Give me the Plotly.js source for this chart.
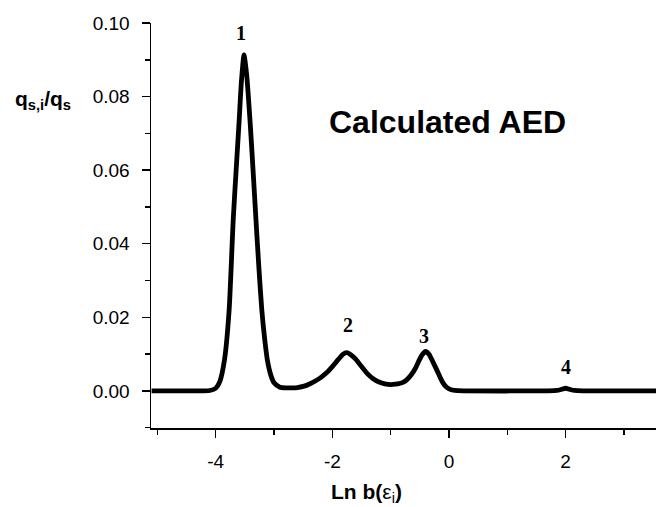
<!DOCTYPE html>
<html>
<head>
<meta charset="utf-8">
<script src="https://cdn.plot.ly/plotly-3.0.1.min.js"></script>
<style>html,body{margin:0;padding:0;background:#fff;}#chart{width:656px;height:507px;}</style>
</head>
<body>
<div id="chart"></div>
<script>
// Curve (Ln b(eps_i), q_s,i/q_s)
var lnB = [-5.10,-4.50,-4.20,-4.10,-4.00,-3.93,-3.85,-3.77,-3.70,-3.65,-3.60,-3.56,-3.515,-3.47,-3.41,-3.36,-3.31,-3.26,-3.21,-3.16,-3.115,-3.05,-3.00,-2.90,-2.80,-2.70,
  -2.60,-2.50,-2.40,-2.30,-2.20,-2.10,-2.00,-1.90,-1.82,-1.755,-1.69,-1.60,-1.50,-1.40,-1.30,-1.20,-1.10,-1.00,-0.92,
  -0.85,-0.78,-0.725,-0.65,-0.58,-0.52,-0.46,-0.40,-0.34,-0.28,-0.21,-0.15,-0.10,-0.05,0.02,0.10,0.25,
  1.70,1.85,1.93,2.00,2.07,2.15,2.30,3.55];
var qRatio = [0,0,0,0.0001,0.0007,0.0025,0.0084,0.0220,0.0465,0.0600,0.0730,0.0840,0.0913,0.0860,0.0730,0.0600,0.0465,0.0335,0.0220,0.0140,0.0084,0.0040,0.0022,0.0010,0.0008,0.0008,
  0.0009,0.0012,0.0018,0.0026,0.0036,0.0049,0.0066,0.0085,0.0099,0.0104,0.0099,0.0086,0.0066,0.0047,0.0033,0.0024,0.0019,0.0017,0.0018,
  0.0020,0.0024,0.0030,0.0043,0.0060,0.0080,0.0098,0.0107,0.0099,0.0080,0.0057,0.0036,0.0021,0.0011,0.0004,0.0001,0,
  0,0.0001,0.0004,0.0007,0.0004,0.0001,0,0];
var peakLabels = ["1","2","3","4"];
var peakLabelX = [-3.56,-1.73,-0.43,2.0];
var peakLabelY = [0.0973,0.0179,0.0148,0.0065];
var xTicks = [-4,-2,0,2];
var yTicks = [0.00,0.02,0.04,0.06,0.08,0.10];

var trace = {
  x: lnB, y: qRatio, type: 'scatter', mode: 'lines',
  line: {color: '#000', width: 4.8, shape: 'spline', smoothing: 0.6},
  hoverinfo: 'skip'
};

var annotations = peakLabels.map(function(t, i){
  return {text: '<b>' + t + '</b>', x: peakLabelX[i], y: peakLabelY[i], xref: 'x', yref: 'y',
    showarrow: false, xanchor: 'center', yanchor: 'middle',
    font: {family: '"Times New Roman", "Liberation Serif", serif', size: 20, color: '#000'}};
});
annotations.push({text: '<b>Calculated AED</b>', xref: 'paper', yref: 'paper',
  x: (447-151)/505, y: (428-122)/405, xanchor: 'center', yanchor: 'middle', showarrow: false,
  font: {family: 'Arial, "Liberation Sans", sans-serif', size: 32, color: '#000'}});
annotations.push({text: '<b>q<sub>s,i</sub>/q<sub>s</sub></b>', xref: 'paper', yref: 'paper',
  x: (43-151)/505, y: (428-100)/405, xanchor: 'center', yanchor: 'middle', showarrow: false,
  font: {family: 'Arial, "Liberation Sans", sans-serif', size: 21, color: '#000'}});
annotations.push({text: '<b>Ln b(</b>ε<sub>i</sub><b>)</b>', xref: 'paper', yref: 'paper',
  x: (366-151)/505, y: (428-493)/405, xanchor: 'center', yanchor: 'middle', showarrow: false,
  font: {family: 'Arial, "Liberation Sans", sans-serif', size: 21, color: '#000'}});

var layout = {
  width: 656, height: 507,
  margin: {l: 151, r: 0, t: 23, b: 79, pad: 0},
  paper_bgcolor: '#fff', plot_bgcolor: '#fff',
  showlegend: false,
  font: {family: 'Arial, "Liberation Sans", sans-serif', color: '#000'},
  xaxis: {
    range: [-5.11, 3.55], tickmode: 'array', tickvals: xTicks, ticktext: xTicks.map(String),
    ticks: 'outside', ticklen: 8, tickwidth: 1.5, tickcolor: '#000',
    minor: {dtick: 1, tick0: 0, ticks: 'outside', ticklen: 5, tickwidth: 1.5, tickcolor: '#000'},
    showline: true, linecolor: '#000', linewidth: 1.5, showgrid: false, zeroline: false,
    tickfont: {size: 19, family: 'Arial, "Liberation Sans", sans-serif', color: '#000'},
    ticklabelstandoff: 8
  },
  yaxis: {
    range: [-0.0101, 0.10], tickmode: 'array', tickvals: yTicks, ticktext: yTicks.map(function(v){return v.toFixed(2);}),
    ticks: 'outside', ticklen: 8, tickwidth: 1.5, tickcolor: '#000',
    minor: {dtick: 0.01, tick0: 0, ticks: 'outside', ticklen: 5, tickwidth: 1.5, tickcolor: '#000'},
    showline: true, linecolor: '#000', linewidth: 1.5, showgrid: false, zeroline: false,
    tickfont: {size: 19, family: 'Arial, "Liberation Sans", sans-serif', color: '#000'},
    ticklabelstandoff: 8
  },
  annotations: annotations
};

Plotly.newPlot('chart', [trace], layout, {displayModeBar: false, staticPlot: true});
</script>
</body>
</html>
